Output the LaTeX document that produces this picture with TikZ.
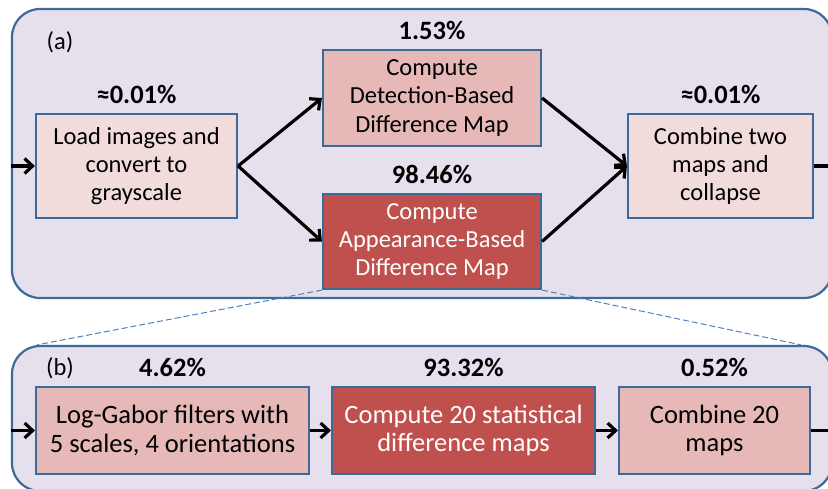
\documentclass[tikz,border=0pt]{standalone}
\usepackage{fontspec}
\setmainfont{Carlito}
\usetikzlibrary{positioning,arrows.meta}
\definecolor{ppLav}{HTML}{E6E0EC}
\definecolor{ppBlue}{HTML}{3E6A99}
\definecolor{ppDash}{HTML}{4F81BD}
\definecolor{ppPinkL}{HTML}{F2DCDB}
\definecolor{ppPink}{HTML}{E6B9B8}
\definecolor{ppRed}{HTML}{C0504D}
\tikzset{
  pp-box/.style={
    draw=ppBlue, line width=2.2pt, fill=ppPinkL,
    font=\fontsize{24.5}{28.3}\selectfont, align=center, inner sep=0pt
  },
  pp-light/.style={pp-box, fill=ppPinkL},
  pp-mid/.style={pp-box, fill=ppPink},
  pp-hot/.style={pp-box, fill=ppRed, text=white},
  pp-wide/.style={font=\fontsize{26.5}{28.5}\selectfont},
  pp-panel/.style={draw=ppBlue, line width=2.2pt, fill=ppLav,
    rounded corners=28pt, inner sep=0pt},
  pp-flow/.style={-{Straight Barb[length=8pt,width=15pt]}, line width=3.2pt, draw=black},
  pp-zoom/.style={draw=ppDash, line width=1pt, dash pattern=on 6pt off 3pt},
  pp-pct/.style={font=\fontsize{26.5}{28}\selectfont\bfseries, inner sep=0pt},
  pp-tag/.style={font=\fontsize{24.5}{28}\selectfont, inner sep=0pt}
}
\begin{document}
\begin{tikzpicture}[x=1pt, y=-1pt]
\useasboundingbox (0,0) rectangle (828,489);
\clip (0,0) rectangle (828,489);

% panels
\node[pp-panel, minimum width=820pt, minimum height=289pt] (pa) at (422,153.5) {};
\node[pp-panel, minimum width=820pt, minimum height=145pt] (pb) at (422,418.5) {};
\node[pp-tag] (taga) at (60,42) {(a)};
\node[pp-tag] (tagb) at (60,368) {(b)};

% (a) whole pipeline
\node[pp-light, minimum width=201pt, minimum height=104pt] (load) at (136.5,166)
  {Load images and\\convert to\\grayscale};
\node[pp-mid, minimum width=218pt, minimum height=96pt] (det) at (432,98)
  {Compute\\Detection-Based\\Difference Map};
\node[pp-hot, minimum width=218pt, minimum height=95pt] (app) at (432,241.5)
  {Compute\\Appearance-Based\\Difference Map};
\node[pp-light, minimum width=185pt, minimum height=104pt] (comb) at (720.5,166)
  {Combine two\\maps and\\collapse};

\node[pp-pct, above=9pt of load] (loadpct) {≈0.01\%};
\node[pp-pct, above=9pt of det] (detpct) {1.53\%};
\node[pp-pct, above=9pt of app] (apppct) {98.46\%};
\node[pp-pct, above=9pt of comb] (combpct) {≈0.01\%};

% (b) inside the appearance step
\node[pp-mid, pp-wide, minimum width=273pt, minimum height=87pt] (gabor) at (172.5,430.5)
  {Log-Gabor filters with\\5 scales, 4 orientations};
\node[pp-hot, pp-wide, minimum width=263pt, minimum height=87pt] (stat) at (463.5,430.5)
  {Compute 20 statistical\\difference maps};
\node[pp-mid, pp-wide, minimum width=191pt, minimum height=87pt] (comb20) at (714.5,430.5)
  {Combine 20\\maps};

\node[pp-pct, above=9pt of gabor] (gaborpct) {4.62\%};
\node[pp-pct, above=9pt of stat] (statpct) {93.32\%};
\node[pp-pct, above=9pt of comb20] (comb20pct) {0.52\%};

\coordinate (ina) at (pa.west |- load.west);
\coordinate (outa) at (840,166);
\coordinate (inb) at (pb.west |- gabor.west);
\coordinate (outb) at (840,430.5);

\draw[pp-flow] (ina) -- (load);
\draw[pp-flow] (load.east) -- (det.west);
\draw[pp-flow] (load.east) -- (app.west);
\draw[pp-flow] (det.east) -- (comb.west);
\draw[pp-flow] (app.east) -- (comb.west);
\draw[pp-flow] (comb) -- (outa);

\draw[pp-flow] (inb) -- (gabor);
\draw[pp-flow] (gabor) -- (stat);
\draw[pp-flow] (stat) -- (comb20);
\draw[pp-flow] (comb20) -- (outb);

\draw[pp-zoom] (app.south west) -- ([xshift=26pt]pb.north west);
\draw[pp-zoom] (app.south east) -- ([xshift=-32pt]pb.north east);
\end{tikzpicture}
\end{document}
